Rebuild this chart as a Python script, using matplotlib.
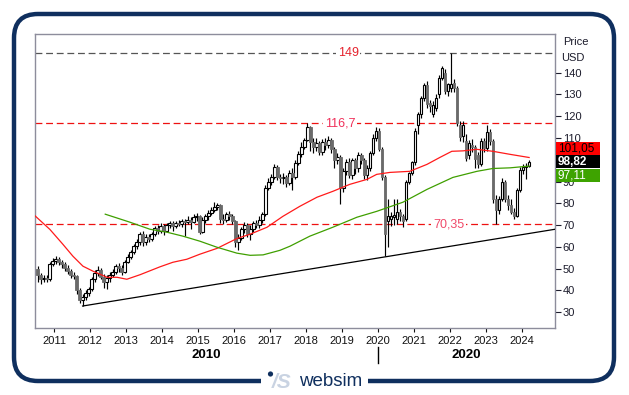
import numpy as np
import pandas as pd
import matplotlib
matplotlib.use("Agg")
import matplotlib.pyplot as plt
import matplotlib.transforms as mtransforms
from matplotlib.patches import FancyBboxPatch, Rectangle, Circle

plt.rcParams['font.family'] = ['Liberation Sans', 'DejaVu Sans']

# monthly candles, Jul 2010 .. Mar 2024 (USD)
opens = [
    50, 47, 45, 45.5, 45, 52,
    53.5, 54.5, 53, 52, 50.5, 49, 47, 46.5, 40, 35.5, 37, 39,
    40.5, 45, 48, 49.5, 46, 44, 45.5, 47, 48.5, 51, 50.5, 48.5,
    53, 55.5, 57.5, 60.5, 62, 66, 62, 64.5, 63.5, 66, 68.5, 67.5,
    69.5, 67.5, 70, 71, 69.5, 71, 70.5, 72, 71.5, 72.5, 71.5, 73.5,
    74, 67, 72.5, 74, 75.5, 77, 78.5, 79, 73, 72.5, 75, 74,
    72, 62, 64, 68, 70, 66, 68, 71, 70, 72.5, 75, 87,
    90, 92, 96.5, 92, 91.5, 92, 89.5, 94, 92, 98.5, 102.5, 106,
    109, 115, 108, 106, 107.5, 103.5, 108, 107, 109, 105, 100, 101.5,
    87, 95, 99, 93, 100, 96, 102, 100, 93, 96, 103, 110,
    113, 105, 92, 72, 73, 73.5, 73, 76, 74, 73, 90, 94,
    99, 116, 121, 128.5, 134.5, 126, 121, 124, 130, 137.7, 140, 131.5,
    133.2, 135.4, 133, 116.2, 110.9, 108.6, 102, 107, 106, 102, 98, 108.6,
    105.5, 112.6, 108.6, 82, 77, 82, 89.6, 82, 79, 76, 74, 86,
    95.5, 96.8, 97.3,
]
highs = [
    51, 48, 47, 47, 53, 55,
    56, 55.5, 54, 53, 51.5, 50, 48.5, 47, 41, 38.5, 40, 41.5,
    46, 49.5, 51, 50.5, 47.5, 47, 48.5, 50, 52, 52.5, 51.5, 54,
    56.5, 58.5, 61.5, 63.5, 67, 67.5, 66, 66, 67, 69.5, 70, 71,
    70.5, 71, 72, 72, 72, 72.5, 73, 73, 74, 73.5, 75, 75.5,
    74.5, 73.5, 75, 77, 78.5, 80.5, 80, 79.5, 75, 76, 76.5, 75,
    72.5, 66, 69, 71.5, 71, 70, 72, 72.5, 74, 76, 88.5, 91.5,
    93.5, 98, 97.5, 93.5, 94, 93, 95.5, 96, 100, 104, 108, 110,
    117, 115.5, 110, 110, 108.5, 109.5, 110, 111, 110, 106, 103, 102,
    96, 100.5, 101, 101, 101, 103.5, 103, 101, 97.5, 104, 112, 115,
    114.5, 106, 93, 82, 76, 82, 82, 77.5, 75, 90.5, 94.5, 99.5,
    114.5, 122, 129.5, 135.5, 136, 127.5, 127, 130, 139, 143, 141.5, 135.5,
    149, 137, 134, 118, 118, 112, 109, 109.5, 107, 103.5, 110, 110,
    116.2, 114, 109.5, 84, 83.5, 91.5, 90.5, 84, 82, 78, 87, 96.5,
    98, 98.5, 100,
]
lows = [
    44, 43, 44, 44, 44.5, 51,
    52, 51.5, 50.5, 49, 47.5, 45.5, 45, 38.5, 34, 32.8, 35.5, 37.5,
    39.5, 44, 46.5, 45, 41, 40.5, 44, 46, 47.5, 48.5, 47, 48,
    52.5, 54.5, 56.5, 59, 61, 60.5, 61, 62, 62.5, 65, 66, 66.5,
    65.5, 67, 68.5, 67.5, 68.5, 69.5, 69, 65, 70.5, 68, 71, 72,
    66, 66.5, 71, 72.5, 74.5, 76, 77, 71, 70.5, 71.5, 72.5, 70.5,
    60, 58.5, 63, 66.5, 64.5, 63, 67, 68.5, 68.5, 71, 74, 86,
    88.5, 91, 90.5, 89.5, 89, 87.5, 88.5, 86, 91, 97.5, 101.5, 105,
    108.5, 104, 103, 104, 102, 102, 104.5, 105.5, 103, 96, 98, 79.5,
    85, 93, 91.5, 91, 93.5, 94.5, 98, 91, 90.5, 95, 102, 108.5,
    104, 90.5, 55.7, 60, 69.5, 70, 70.5, 72, 69, 72, 89, 93,
    97.5, 112, 119, 127, 124, 122, 119.5, 122.5, 128.5, 136.5, 130, 129.5,
    131, 131, 115.5, 108.5, 108, 99.5, 100.5, 103.5, 96.4, 96, 97, 103.5,
    104, 107, 80, 70.35, 75, 81, 80.5, 77, 75, 72.7, 73.5, 85,
    93.5, 91, 96.5,
]
closes = [
    47, 45, 45.5, 45, 52, 53.5,
    54.5, 53, 52, 50.5, 49, 47, 46.5, 40, 35.5, 37, 39, 40.5,
    45, 48, 49.5, 46, 44, 45.5, 47, 48.5, 51, 50.5, 48.5, 53,
    55.5, 57.5, 60.5, 62, 66, 62, 64.5, 63.5, 66, 68.5, 67.5, 69.5,
    67.5, 70, 71, 69.5, 71, 70.5, 72, 71.5, 72.5, 71.5, 73.5, 74,
    67, 72.5, 74, 75.5, 77, 78.5, 79, 73, 72.5, 75, 74, 72,
    62, 64, 68, 70, 66, 68, 71, 70, 72.5, 75, 87, 90,
    92, 96.5, 92, 91.5, 92, 89.5, 94, 92, 98.5, 102.5, 106, 109,
    115, 108, 106, 107.5, 103.5, 108, 107, 109, 105, 100, 101.5, 87,
    95, 99, 93, 100, 96, 102, 100, 93, 96, 103, 110, 113,
    105, 92, 66, 74, 74, 74.5, 76, 74, 72, 90, 94, 99,
    113, 121, 128.5, 134.5, 125.5, 124.6, 125.4, 128.5, 137.7, 142, 131.5, 134.6,
    134.6, 133, 117, 110.3, 116.2, 101, 107.5, 106, 100.2, 98, 108.6, 105.5,
    112.6, 108.6, 82, 77, 82, 90, 82, 79, 76, 74, 86, 95.5,
    96.8, 97.3, 98.82,
]

# moving averages (decimal year, value)
ma_red_t = [2010.47, 2010.88, 2011.24, 2011.52, 2011.80, 2012.08, 2012.47, 2012.75,
            2013.02, 2013.39, 2013.94, 2014.30, 2014.69, 2015.05, 2015.53, 2016.08,
            2016.45, 2016.92, 2017.36, 2017.83, 2018.31, 2018.75, 2019.22, 2019.70,
            2019.97, 2020.34, 2020.89, 2021.37, 2021.73, 2022.06, 2022.37, 2022.76,
            2023.20, 2023.68, 2024.21]
ma_red_v = [74.2, 68, 61.2, 55.7, 51.1, 48.8, 46, 46,
            45.1, 47.2, 50.8, 52.9, 54.3, 56.6, 59.3, 63.8,
            65.8, 69, 74, 78.6, 82.8, 85.5, 88.7, 91,
            93.3, 94.2, 94.7, 97.9, 101.1, 103.9, 104.1, 104.8,
            103.9, 102.5, 101.05]
ma_green_t = [2012.42, 2013.11, 2013.66, 2014.14, 2014.58, 2015.05, 2015.53, 2016.08,
              2016.45, 2016.81, 2017.28, 2017.56, 2018.11, 2018.75, 2019.42, 2019.97,
              2020.70, 2021.37, 2022.09, 2022.76, 2023.20, 2023.68, 2024.21]
ma_green_v = [75, 71.3, 68.1, 66.7, 64.9, 62.6, 59.8, 57.1,
              56.1, 56.3, 58.4, 60.3, 64.9, 69, 73.6, 76.3,
              80.5, 86.4, 91.9, 94.7, 96, 96.3, 97.11]

# support trendline through the 2011 and 2020 lows
trend_t = [2011.79, 2020.21]
trend_v = [32.8, 55.4]

levels = [149, 116.7, 70.35]
level_labels = ['149', '116,7', '70,35']
level_label_t = [2019.18, 2018.95, 2021.97]
years = list(range(2011, 2025))
price_ticks = list(range(30, 150, 10))

o = np.array(opens); h = np.array(highs); l = np.array(lows); c = np.array(closes)
months = pd.date_range("2010-07-01", periods=len(c), freq="MS")
t = np.array(months.year + (months.month - 0.5) / 12.0)

W, H = 629, 395
fig = plt.figure(figsize=(W / 100, H / 100), dpi=100)

# frame + logo layer in pixel coords
ov = fig.add_axes([0, 0, 1, 1], zorder=-1)
ov.set_xlim(0, W); ov.set_ylim(H, 0); ov.axis('off')
navy = '#0f2f5e'
ov.add_patch(FancyBboxPatch((14, 14), 600, 367, boxstyle="round,pad=0,rounding_size=24",
                            fc='none', ec=navy, lw=3.2))
ov.add_patch(Rectangle((261, 368), 107, 26, fc='white', ec='none'))
ov.add_patch(Circle((270.5, 374), 2.6, fc=navy, ec='none'))
ov.text(272, 382, '/S', color='#c9d3e2', fontsize=15, fontstyle='italic',
        fontweight='bold', va='center', ha='left')
ov.text(299, 382, 'websim', color=navy, fontsize=13.5, va='center', ha='left')
ov.plot([378, 378], [347, 363], color='black', lw=1)

ax = fig.add_axes([35 / W, 1 - 328 / H, 520 / W, 294 / H])
ax.set_xlim(2010.466, 2024.93)
ax.set_ylim(22.7, 157.8)

# candles
w = 0.068
up = c >= o
ax.vlines(t, l, h, color='black', lw=0.85, zorder=3)
ax.bar(t[up], (c - o)[up], bottom=o[up], width=w, color='white',
       edgecolor='black', lw=0.8, zorder=4)
ax.bar(t[~up], (o - c)[~up], bottom=c[~up], width=w, color='#6a6a6a',
       edgecolor='#6a6a6a', lw=0.6, zorder=4)

ax.plot(ma_red_t, ma_red_v, color='#ff1a1a', lw=0.9, zorder=5)
ax.plot(ma_green_t, ma_green_v, color='#3f9f00', lw=0.9, zorder=5)

# trendline extended to the right edge
slope = (trend_v[1] - trend_v[0]) / (trend_t[1] - trend_t[0])
x_end = ax.get_xlim()[1]
ax.plot([trend_t[0], x_end], [trend_v[0], trend_v[0] + slope * (x_end - trend_t[0])],
        color='black', lw=0.9, zorder=5)

level_colors = ['#555555', '#ee1111', '#ee1111']
label_colors = ['#e5232e', '#f0305a', '#f04a6a']
for lv, lab, lt, lc, tc in zip(levels, level_labels, level_label_t, level_colors, label_colors):
    ax.axhline(lv, color=lc, ls=(0, (5.5, 3)), lw=0.9, zorder=2)
    ax.text(lt, lv, lab, color=tc, fontsize=9, ha='center', va='center', zorder=6,
            bbox=dict(fc='white', ec='none', pad=1.2))

# axes styling
for sp in ax.spines.values():
    sp.set_color('#8d8d9c')
    sp.set_linewidth(1)
ax.yaxis.tick_right()
ax.set_yticks(price_ticks)
# the 100 label sits fully under the value tags in the original
ax.set_yticklabels(['' if p == 100 else str(p) for p in price_ticks])
ax.set_xticks(years)
ax.set_xticklabels([str(y) for y in years])
ax.tick_params(axis='y', labelsize=8, length=4, width=0.8, pad=1.5, colors='#1c1c2c')
ax.tick_params(axis='x', labelsize=8, length=3, width=0.8, pad=3, colors='#111111')

fig.text(563 / W, 1 - 42 / H, 'Price', fontsize=8, ha='left', va='center', color='#1c1c2c')
fig.text(561 / W, 1 - 58 / H, 'USD', fontsize=8, ha='left', va='center', color='#1c1c2c')

# last-value tags on the right
tr = mtransforms.blended_transform_factory(ax.transAxes, ax.transData)
box_h = 13 / 2.177
last = c[-1]
tags = [(f"{ma_red_v[-1]:.2f}".replace('.', ','), '#ff0000', 'black', 'normal', last + 6.3),
        (f"{last:.2f}".replace('.', ','), 'black', 'white', 'bold', last + 0.3),
        (f"{ma_green_v[-1]:.2f}".replace('.', ','), '#3ea300', 'white', 'normal', last - 6.1)]
for txt, fc, tcol, fw, yc in tags:
    ax.add_patch(Rectangle((1.002, yc - box_h / 2), 0.085, box_h, transform=tr,
                           fc=fc, ec='none', clip_on=False, zorder=10))
    ax.text(1.005, yc, txt, transform=tr, color=tcol, fontsize=8.5, fontweight=fw,
            ha='left', va='center', clip_on=False, zorder=11)

fig.text(206 / W, 1 - 355 / H, '2010', fontsize=9.5, fontweight='bold', ha='center', va='center')
fig.text(466 / W, 1 - 355 / H, '2020', fontsize=9.5, fontweight='bold', ha='center', va='center')

fig.savefig('out.png', dpi=100, facecolor='white')
